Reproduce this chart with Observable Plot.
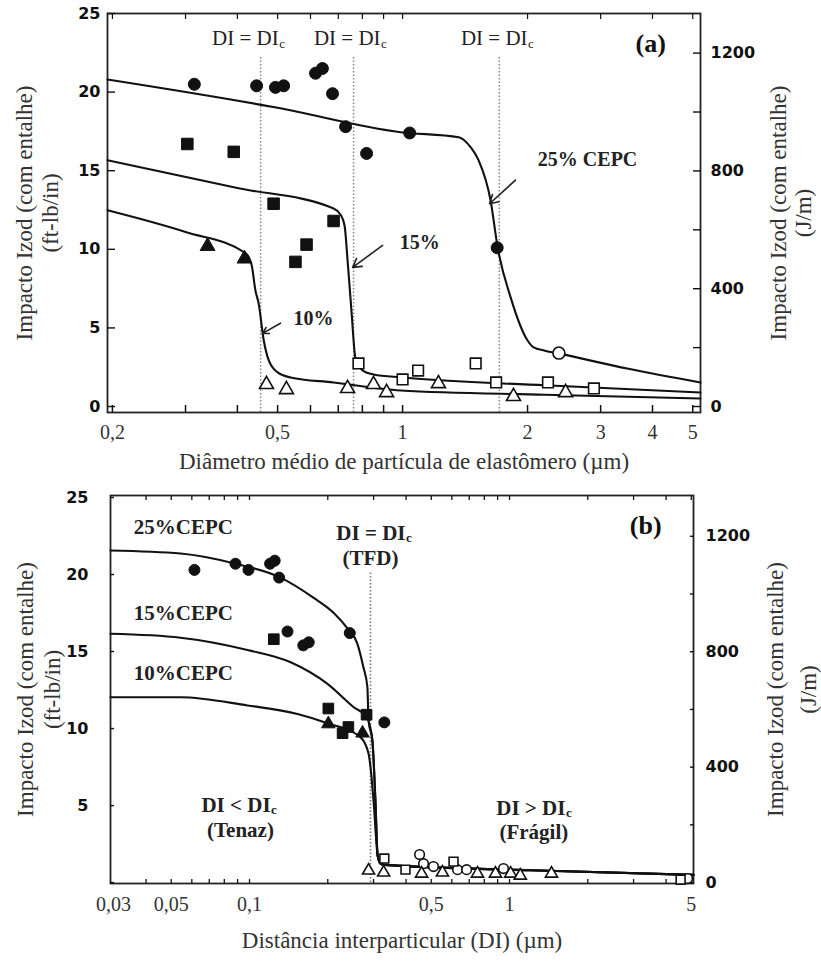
<!DOCTYPE html>
<html><head><meta charset="utf-8">
<script src="https://cdn.jsdelivr.net/npm/d3@7"></script>
<script src="https://cdn.jsdelivr.net/npm/@observablehq/plot@0.6"></script>
<style>
body{margin:0;background:#fff;}
#wrap{width:821px;}
#wrap svg{display:block;}
</style></head><body><div id="wrap"></div>
<script>
const SERIF = "Liberation Serif, 'Times New Roman', serif";
const SANS = "'DejaVu Sans', sans-serif";
const JPM = 53.38; // 1 ft-lb/in = 53.38 J/m

// ---------- Panel (a): data ----------
const aCirclesFilled = [[0.315,20.5],[0.445,20.4],[0.494,20.3],[0.517,20.4],[0.617,21.2],[0.641,21.5],[0.678,19.9],[0.729,17.8],[0.819,16.1],[1.04,17.4],[1.69,10.1]];
const aCirclesOpen = [[2.38,3.4]];
const aSquaresFilled = [[0.303,16.7],[0.392,16.2],[0.489,12.9],[0.682,11.8],[0.552,9.2],[0.587,10.3]];
const aSquaresOpen = [[0.783,2.74],[1.0,1.72],[1.09,2.29],[1.50,2.74],[1.68,1.53],[2.24,1.53],[2.89,1.15]];
const aTrianglesFilled = [[0.339,10.2],[0.416,9.4]];
const aTrianglesOpen = [[0.47,1.4],[0.525,1.08],[0.737,1.15],[0.851,1.4],[0.915,0.89],[1.22,1.46],[1.85,0.64],[2.47,0.89]];
const aCurve25 = [[0.1946,20.8],[0.5,19.0],[0.989,17.45],[1.365,17.13],[1.458,16.5],[1.524,15.67],[1.629,13.12],[1.694,10.13],[1.821,6.94],[2.0,4.2],[2.07,3.76],[2.19,3.57],[2.37,3.38],[3.5,2.4],[5.22,1.53]];
const aCurve15 = [[0.1946,15.67],[0.4,13.9],[0.682,12.6],[0.709,12.2],[0.725,11.5],[0.737,9.3],[0.753,6.1],[0.770,3.06],[0.801,2.3],[0.851,2.04],[1.0,1.85],[2.2,1.35],[5.22,0.89]];
const aCurve10 = [[0.1946,12.48],[0.3,11.1],[0.419,9.75],[0.433,8.98],[0.442,7.39],[0.450,6.56],[0.463,4.2],[0.476,2.93],[0.500,2.17],[0.537,1.85],[0.682,1.53],[0.989,1.02],[2.2,0.75],[5.22,0.51]];
const aCriticalX = [0.455, 0.762, 1.71];
const aCriticalLabelX = [0.503, 0.885, 2.0];
const aSeriesLabels = [[2.79,15.7,"25% CEPC"],[1.10,10.4,"15%"],[0.61,5.6,"10%"]];
const aArrows = [[1.87,14.4,1.62,12.9],[0.895,10.25,0.758,8.85],[0.508,5.3,0.460,4.65]];
const aXTicks = [0.2,0.3,0.4,0.5,0.6,0.7,0.8,0.9,1,2,3,4,5];
const aXTickLabels = [0.2,0.5,1,2,3,4,5];

// ---------- Panel (b): data ----------
const bCirclesFilled = [[0.0614,20.3],[0.0883,20.7],[0.0991,20.3],[0.120,20.7],[0.125,20.9],[0.130,19.8],[0.140,16.3],[0.161,15.4],[0.169,15.6],[0.243,16.2],[0.330,10.4]];
const bSquaresFilled = [[0.124,15.8],[0.201,11.3],[0.282,10.9],[0.240,10.1],[0.228,9.7]];
const bTrianglesFilled = [[0.201,10.3],[0.272,9.7]];
const bCirclesOpen = [[0.451,1.82],[0.467,1.23],[0.510,1.04],[0.631,0.84],[0.684,0.84],[0.948,0.91],[4.84,0.26]];
const bSquaresOpen = [[0.330,1.56],[0.398,0.84],[0.609,1.36],[4.55,0.19]];
const bTrianglesOpen = [[0.287,0.78],[0.328,0.65],[0.459,0.58],[0.552,0.65],[0.753,0.58],[0.883,0.58],[1.01,0.58],[1.10,0.45],[1.45,0.58]];
const bTail = [[0.319,1.23],[0.33,1.15],[1.2,0.8],[5.1,0.5]];
const bCurve25 = [[0.0292,21.56],[0.0543,21.36],[0.0883,20.7],[0.1316,19.8],[0.176,18.5],[0.211,17.5],[0.238,16.5],[0.260,15.5],[0.274,14.0],[0.284,12.7],[0.287,10.5],[0.297,9.2],[0.305,5.3],[0.311,1.75]].concat(bTail);
const bCurve15 = [[0.0292,16.15],[0.0543,15.9],[0.0982,15.1],[0.144,14.3],[0.1995,12.9],[0.251,11.4],[0.284,10.7],[0.290,10.2],[0.297,9.2],[0.305,5.3],[0.311,1.75]].concat(bTail);
const bCurve10 = [[0.0292,12.03],[0.0543,12.03],[0.0982,11.5],[0.153,10.95],[0.1995,10.35],[0.267,9.44],[0.287,8.36],[0.292,7.5],[0.300,5.3],[0.311,1.75]].concat(bTail);
const bCriticalX = [0.292];
const bSeriesLabels = [[0.0557,23.05,"25%CEPC"],[0.0557,17.5,"15%CEPC"],[0.0557,13.6,"10%CEPC"]];
const bXTicks = [0.04,0.05,0.06,0.07,0.08,0.09,0.1,0.2,0.3,0.4,0.5,0.6,0.7,0.8,0.9,1,2,3,4,5];
const bXTickLabels = [0.03,0.05,0.1,0.5,1,5];

// ---------- shared axis values ----------
const yTicksFt = [0,5,10,15,20,25];
const yLabelsFtA = [0,5,10,15,20,25];
const yLabelsFtB = [5,10,15,20,25];
const yTicksJ = [0,200,400,600,800,1000,1200];
const yLabelsJ = [0,400,800,1200];
const yTitle = "Impacto Izod (com entalhe)";

const fmtComma = d => String(d).replace(".", ",");
const X = d => d[0], Y = d => d[1];

function dots(data, symbol, filled, r) {
  return Plot.dot(data, {x: X, y: Y, symbol, r, fill: filled ? "#111" : "white", stroke: "#111", strokeWidth: filled ? 1 : 1.6});
}
function curve(data) {
  return Plot.line(data, {x: X, y: Y, stroke: "#111", strokeWidth: 2.1, curve: "monotone-x"});
}
function yAxes(labelsFt, tickLen, padL, padR) {
  return [
    Plot.axisY(yTicksFt, {anchor: "left", tickSize: -tickLen, text: null, label: null, strokeWidth: 1.4}),
    Plot.axisY(labelsFt, {anchor: "left", tickSize: 0, tickPadding: padL, label: null, fontFamily: SANS, fontSize: 16, fontWeight: "bold"}),
    Plot.axisY(yTicksJ.map(v => v / JPM), {anchor: "right", tickSize: -tickLen, text: null, label: null, strokeWidth: 1.4}),
    Plot.axisY(yLabelsJ.map(v => v / JPM), {anchor: "right", tickSize: 0, tickPadding: padR, label: null,
      tickFormat: v => String(Math.round(v * JPM)), fontFamily: SANS, fontSize: 16, fontWeight: "bold"})
  ];
}
function titles(dxL1, dxL2, dxR1, dxR2) {
  const o = {rotate: -90, textAnchor: "middle", fontFamily: SERIF, fontSize: 23, fill: "#333"};
  return [
    Plot.text([yTitle], {frameAnchor: "left", dx: dxL1, ...o}),
    Plot.text(["(ft-lb/in)"], {frameAnchor: "left", dx: dxL2, ...o}),
    Plot.text([yTitle], {frameAnchor: "right", dx: dxR1, ...o}),
    Plot.text(["(J/m)"], {frameAnchor: "right", dx: dxR2, ...o})
  ];
}
function subLabel(pos, main, bold) {
  const w = bold ? "bold" : "normal";
  return [
    Plot.text([pos], {x: X, y: Y, text: () => main, textAnchor: "end", fontFamily: SERIF, fontSize: 21, fontWeight: w, fill: "#222"}),
    Plot.text([pos], {x: X, y: Y, text: () => "c", textAnchor: "start", dx: 0.5, dy: 5, fontFamily: SERIF, fontSize: 13, fontWeight: w, fill: "#222"})
  ];
}

// ---------- Panel (a) ----------
const plotA = Plot.plot({
  width: 821, height: 487,
  marginTop: 13, marginBottom: 75, marginLeft: 107, marginRight: 121,
  x: {type: "log", domain: [0.1946, 5.22]},
  y: {domain: [-0.38, 25.0]},
  style: {background: "white", color: "#111", overflow: "visible"},
  marks: [
    Plot.ruleX(aCriticalX, {y1: -0.38, y2: 22.2, stroke: "#888", strokeWidth: 1.5, strokeDasharray: "1.5,2"}),
    Plot.frame({stroke: "#222", strokeWidth: 1.8}),
    Plot.axisX(aXTicks, {anchor: "bottom", tickSize: -7, text: null, label: null, strokeWidth: 1.5}),
    Plot.axisX(aXTicks, {anchor: "top", tickSize: -5, text: null, label: null, strokeWidth: 1.2}),
    Plot.text(aXTickLabels, {x: d => d, frameAnchor: "bottom", dy: 26, text: fmtComma, fontFamily: SERIF, fontSize: 20, fill: "#333"}),
    ...yAxes(yLabelsFtA, 8, 7, 10),
    curve(aCurve25), curve(aCurve15), curve(aCurve10),
    dots(aCirclesFilled, "circle", true, 6),
    dots(aCirclesOpen, "circle", false, 6),
    dots(aSquaresFilled, "square", true, 6.5),
    dots(aSquaresOpen, "square", false, 6),
    dots(aTrianglesFilled, "triangle", true, 5.5),
    dots(aTrianglesOpen, "triangle", false, 5.2),
    Plot.arrow(aArrows, {x1: d => d[0], y1: d => d[1], x2: d => d[2], y2: d => d[3], stroke: "#222", strokeWidth: 1.6, headLength: 9}),
    ...aCriticalLabelX.flatMap(x => subLabel([x, 23.4], "DI = DI", false)),
    Plot.text(aSeriesLabels, {x: X, y: Y, text: d => d[2], fontFamily: SERIF, fontSize: 20, fontWeight: "bold", fill: "#222"}),
    Plot.text(["(a)"], {x: 3.96, y: 23.1, fontFamily: SERIF, fontSize: 26, fontWeight: "bold", fill: "#111"}),
    Plot.text(["Diâmetro médio de partícula de elastômero (µm)"], {frameAnchor: "bottom", dy: 56, fontFamily: SERIF, fontSize: 23, fill: "#333"}),
    ...titles(-83, -57, 78, 103)
  ]
});

// ---------- Panel (b) ----------
const plotB = Plot.plot({
  width: 821, height: 481,
  marginTop: 8, marginBottom: 85, marginLeft: 110, marginRight: 128,
  x: {type: "log", domain: [0.0292, 5.1]},
  y: {domain: [-0.06, 25.13]},
  style: {background: "white", color: "#111", overflow: "visible"},
  marks: [
    Plot.ruleX(bCriticalX, {y1: 0, y2: 20.1, stroke: "#777", strokeWidth: 1.6, strokeDasharray: "1.5,2"}),
    Plot.frame({stroke: "#222", strokeWidth: 1.8}),
    Plot.axisX(bXTicks, {anchor: "bottom", tickSize: -4, text: null, label: null, strokeWidth: 1.3}),
    Plot.axisX(bXTicks, {anchor: "top", tickSize: -4, text: null, label: null, strokeWidth: 1.3}),
    Plot.text(bXTickLabels, {x: d => d, frameAnchor: "bottom", dy: 27, text: fmtComma, fontFamily: SERIF, fontSize: 20, fill: "#333"}),
    ...yAxes(yLabelsFtB, 4, 22, 12),
    curve(bCurve25), curve(bCurve15), curve(bCurve10),
    dots(bCirclesFilled, "circle", true, 5.5),
    dots(bSquaresFilled, "square", true, 6),
    dots(bTrianglesFilled, "triangle", true, 5),
    dots(bCirclesOpen, "circle", false, 4.8),
    dots(bSquaresOpen, "square", false, 5),
    dots(bTrianglesOpen, "triangle", false, 4.5),
    Plot.text(bSeriesLabels, {x: X, y: Y, text: d => d[2], fontFamily: SERIF, fontSize: 21, fontWeight: "bold", fill: "#222"}),
    ...subLabel([0.398, 22.7], "DI = DI", true),
    Plot.text([[0.292,21.05]], {x: X, y: Y, text: () => "(TFD)", fontFamily: SERIF, fontSize: 21, fontWeight: "bold", fill: "#222"}),
    ...subLabel([0.1205, 5.05], "DI < DI", true),
    Plot.text([[0.0923,3.4]], {x: X, y: Y, text: () => "(Tenaz)", fontFamily: SERIF, fontSize: 21, fontWeight: "bold", fill: "#222"}),
    ...subLabel([1.64, 4.85], "DI > DI", true),
    Plot.text([[1.24,3.25]], {x: X, y: Y, text: () => "(Frágil)", fontFamily: SERIF, fontSize: 21, fontWeight: "bold", fill: "#222"}),
    Plot.text(["(b)"], {x: 3.34, y: 23.2, fontFamily: SERIF, fontSize: 26, fontWeight: "bold", fill: "#111"}),
    Plot.text(["Distância interparticular (DI) (µm)"], {frameAnchor: "bottom", dy: 64, fontFamily: SERIF, fontSize: 23, fill: "#333"}),
    ...titles(-85, -58, 82, 115)
  ]
});

const wrap = document.getElementById("wrap");
wrap.appendChild(plotA);
wrap.appendChild(plotB);
</script>
</body></html>
